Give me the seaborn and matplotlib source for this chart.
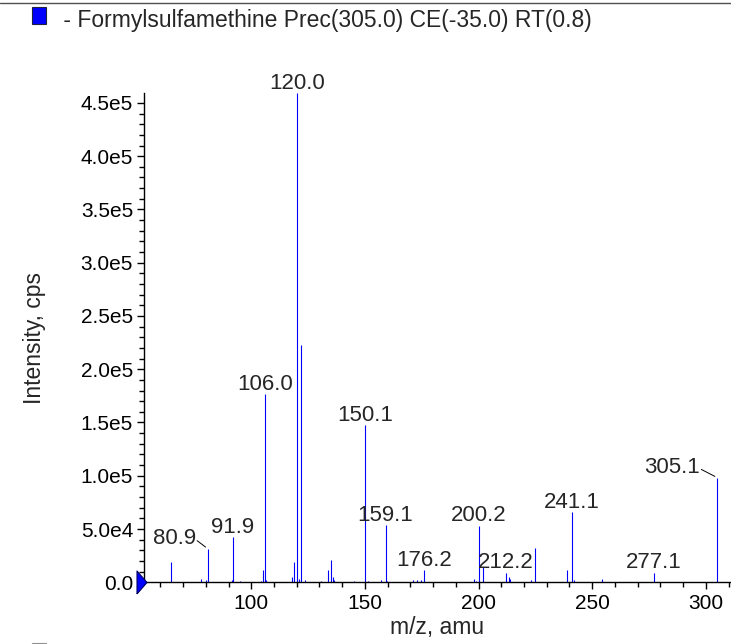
import matplotlib
matplotlib.use("Agg")
import matplotlib.pyplot as plt
import matplotlib.patches as mpatches
from matplotlib.ticker import MultipleLocator, FixedLocator, FixedFormatter
import seaborn as sns

# ---- data ----
peak_mz = [64.8, 78.0, 79.9, 80.9, 91.6, 91.9, 95.0, 104.5, 105.1, 106.0, 106.6,
           117.8, 118.8, 120.0, 121.0, 121.9, 123.5, 130.6, 133.8, 135.0, 135.8,
           136.3, 145.0, 150.1, 151.5, 156.9, 159.1, 159.9, 171.1, 173.0, 174.8,
           176.2, 197.9, 198.8, 200.2, 201.9, 212.2, 213.2, 213.7, 222.9, 224.9,
           238.9, 241.1, 241.8, 254.5, 277.1, 305.1]
peak_int = [1.93e4, 3.0e3, 2.0e3, 3.15e4, 2.0e3, 4.25e4, 1.0e3, 1.5e3, 1.15e4, 1.765e5, 2.0e3,
            5.0e3, 1.9e4, 4.59e5, 3.0e3, 2.228e5, 2.0e3, 1.0e3, 1.15e4, 2.1e4, 5.0e3,
            2.0e3, 1.0e3, 1.477e5, 1.2e3, 2.0e3, 5.38e4, 1.0e3, 2.0e3, 2.0e3, 2.5e3,
            1.15e4, 3.0e3, 1.5e3, 5.29e4, 1.46e4, 9.0e3, 5.0e3, 3.0e3, 2.0e3, 3.25e4,
            1.15e4, 6.57e4, 2.0e3, 3.0e3, 8.8e3, 9.82e4]
label_mz = [80.9, 91.9, 106.0, 120.0, 150.1, 159.1, 176.2, 200.2, 212.2, 241.1, 277.1, 305.1]
label_text = ["80.9", "91.9", "106.0", "120.0", "150.1", "159.1", "176.2",
              "200.2", "212.2", "241.1", "277.1", "305.1"]
ytick_values = [0, 5e4, 1e5, 1.5e5, 2e5, 2.5e5, 3e5, 3.5e5, 4e5, 4.5e5]
ytick_labels = ["0.0", "5.0e4", "1.0e5", "1.5e5", "2.0e5", "2.5e5",
                "3.0e5", "3.5e5", "4.0e5", "4.5e5"]
xtick_values = [100, 150, 200, 250, 300]
title_text = " - Formylsulfamethine Prec(305.0) CE(-35.0) RT(0.8)"
x_label = "m/z, amu"
y_label = "Intensity, cps"

# ---- style ----
sns.set_style("ticks")
plt.rcParams['font.family'] = ['Liberation Sans', 'DejaVu Sans']

W, H = 731, 644
fig = plt.figure(figsize=(W / 100, H / 100), dpi=100)
left, right, bottom, top = 143.5, 731, 582.3, 93.3
ax = fig.add_axes([left / W, (H - bottom) / H, (right - left) / W, (bottom - top) / H])

blue = "#0000ff"
ax.vlines(peak_mz, 0, peak_int, color=blue, linewidth=0.8)

ax.set_xlim(52.6, 311.1)
ax.set_ylim(0, max(peak_int))

sns.despine(ax=ax, top=True, right=True)
for s in ("left", "bottom"):
    ax.spines[s].set_color("black")
    ax.spines[s].set_linewidth(1.0)

ax.xaxis.set_major_locator(FixedLocator(xtick_values))
ax.xaxis.set_minor_locator(MultipleLocator(10))
ax.yaxis.set_major_locator(FixedLocator(ytick_values))
ax.yaxis.set_major_formatter(FixedFormatter(ytick_labels))
ax.yaxis.set_minor_locator(MultipleLocator(1e4))
ax.tick_params(which="major", direction="out", length=5, width=1, color="black",
               labelsize=15, labelcolor="black")
ax.tick_params(which="minor", direction="out", length=3.5, width=1, color="black")
ax.tick_params(axis="x", pad=3.5)
ax.tick_params(axis="y", pad=2.5)

ax.set_xlabel(x_label, fontsize=16.5, labelpad=2)
ax.set_ylabel(y_label, fontsize=16.5, labelpad=25)

lookup = dict(zip(peak_mz, peak_int))
for mz, txt in zip(label_mz, label_text):
    h = lookup[mz]
    if txt == "80.9":
        ax.annotate(txt, xy=(mz, h), xytext=(-24, 3.2), textcoords="offset points",
                    ha="center", va="baseline", fontsize=16, annotation_clip=False,
                    arrowprops=dict(arrowstyle="-", color="black", lw=0.7,
                                    relpos=(1.0, 0.45), patchA=None,
                                    shrinkA=1, shrinkB=2))
    elif txt == "305.1":
        ax.annotate(txt, xy=(mz, h), xytext=(-32.5, 3.2), textcoords="offset points",
                    ha="center", va="baseline", fontsize=16, annotation_clip=False,
                    arrowprops=dict(arrowstyle="-", color="black", lw=0.7,
                                    relpos=(1.0, 0.45), patchA=None,
                                    shrinkA=1, shrinkB=2))
    else:
        ax.annotate(txt, xy=(mz, h), xytext=(0, 3.2), textcoords="offset points",
                    ha="center", va="baseline", fontsize=16, annotation_clip=False)

# triangle marker at origin of y axis
tri = [(-0.75, -1.15), (0.25, 0.0), (-0.75, 1.15), (-0.75, -1.15)]
ax.plot([52.6], [0], marker=tri, markersize=23 * 0.72, color=blue,
        markeredgecolor="#000060", markeredgewidth=0.8, clip_on=False, zorder=10)

# header legend square + text
fig.patches.append(mpatches.Rectangle((31.7 / W, 1 - 24 / H), 14 / W, 16.7 / H,
                                      transform=fig.transFigure, facecolor=blue,
                                      edgecolor="#202040", linewidth=0.8))
fig.text(57 / W, 1 - 27.5 / H, title_text, fontsize=16.5, va="baseline", ha="left")
# top border line
fig.add_artist(plt.Line2D([0, 1], [1 - 2.7 / H, 1 - 2.7 / H], transform=fig.transFigure,
                          color="#505050", linewidth=1.0))
# next legend square peeking at bottom
fig.patches.append(mpatches.Rectangle((31.7 / W, 1 - 660 / H), 14 / W, 17 / H,
                                      transform=fig.transFigure, facecolor="white",
                                      edgecolor="#909090", linewidth=0.8))

fig.savefig("out.png", dpi=100)
